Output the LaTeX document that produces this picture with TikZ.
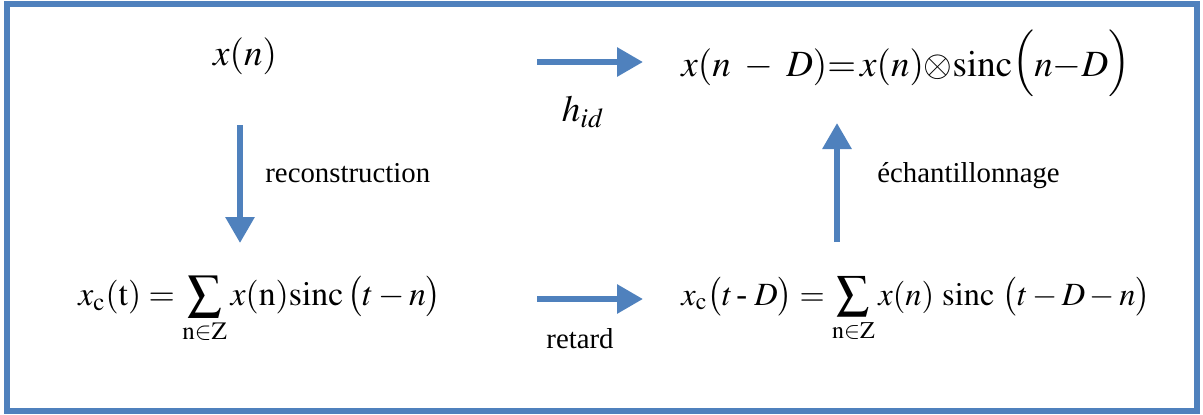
\documentclass[tikz,border=0pt]{standalone}
\usepackage{mathptmx}
\usepackage[no-math]{fontspec}
\setmainfont{Liberation Serif}
\usetikzlibrary{arrows.meta}
\definecolor{wblue}{RGB}{79,129,189}
\newcommand{\upparen}[1]{\mathopen{\smash{\raisebox{1.5pt}{$\Bigl#1$}}}}
\newcommand{\upcparen}[1]{\mathclose{\smash{\raisebox{1.5pt}{$\Bigr#1$}}}}
\begin{document}
\begin{tikzpicture}[x=0.5pt,y=-0.5pt,
  every node/.style={inner sep=0pt},
  flow/.style={wblue, line width=3pt, -{Triangle[width=14pt,length=13pt]}},
  lbl/.style={font=\fontsize{14.4}{17}\selectfont},
  eqtop/.style={font=\fontsize{18.5}{22}\selectfont},
  eqa/.style={font=\fontsize{16.9}{20}\selectfont},
  eqb/.style={font=\fontsize{16.2}{19}\selectfont}]
\useasboundingbox (0,0) rectangle (1203,414);
\draw[wblue, line width=3.2pt] (7,4) rectangle (1197,411);
% formulas
\node[eqtop, anchor=base] (xn) at (245,65) {$x(n)$};
\node[eqtop, anchor=base west] (xnD) at (681,76) {$x(n\;-\;D){=}\,x(n){\otimes}\mathrm{sinc}\upparen{(}n{-}D\upcparen{)}$};
\node[eqa, anchor=base west] (xc) at (78,305) {$\displaystyle x_{\mathrm{c}}(\mathrm{t}) = \sum_{\mathrm{n}\in \mathrm{Z}} x(\mathrm{n})\mathrm{sinc}\,\bigl(t-n\bigr)$};
\node[eqb, anchor=base west] (xcD) at (681,305) {$\displaystyle x_{\mathrm{c}}\bigl(t\,\mbox{-}\;D\bigr) = \sum_{\mathrm{n}\in\mathrm{Z}} x(n)\ \mathrm{sinc}\ \bigl(t-D-n\bigr)$};
% labels
\node[eqtop, anchor=base] (hid) at (583,121) {$h_{id}$};
\node[lbl, anchor=base west] (rec) at (265,182) {reconstruction};
\node[lbl, anchor=base west] (ech) at (877,182) {échantillonnage};
\node[lbl, anchor=base] (ret) at (580,348) {retard};
% arrows
\coordinate (t1) at (537,62); \coordinate (t2) at (643,62);
\coordinate (l1) at (240,125); \coordinate (l2) at (240,243);
\coordinate (r1) at (837,242); \coordinate (r2) at (837,123);
\coordinate (b1) at (537,299); \coordinate (b2) at (643,299);
\draw[flow] (t1) -- (t2);
\draw[flow] (l1) -- (l2);
\draw[flow] (r1) -- (r2);
\draw[flow] (b1) -- (b2);
\end{tikzpicture}
\end{document}
